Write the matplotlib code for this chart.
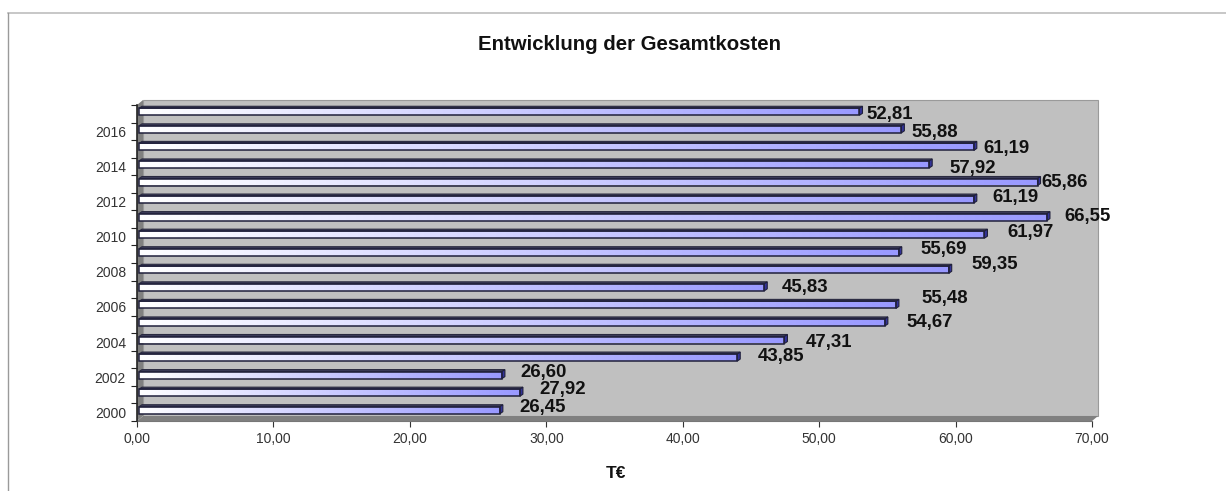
import numpy as np
import matplotlib
matplotlib.use("Agg")
import matplotlib.pyplot as plt
from matplotlib.colors import LinearSegmentedColormap
from matplotlib.lines import Line2D
from matplotlib.patches import Polygon

plt.rcParams['font.family'] = ['Liberation Sans', 'DejaVu Sans']

years = list(range(2000, 2018))
costs = [26.45, 27.92, 26.60, 43.85, 47.31, 54.67, 55.48, 45.83, 59.35,
         55.69, 61.97, 66.55, 61.19, 65.86, 57.92, 61.19, 55.88, 52.81]
x_ticks = [0, 10, 20, 30, 40, 50, 60, 70]

# hand placed labels in the original, pixels away from the bar end
label_dx = [17, 16, 15, 18, 18, 19, 23, 14, 20, 19, 20, 14, 16, 1, 17, 7, 7, 4]
label_dy = [3, 3, 3, 1, -2, 0, 6, 0, 5, 3, 2, 1, 2, 0, -4, -2, -3, -3]

W, H = 1226, 491
LEFT, RIGHT, TOP, BOTTOM = 137, 1092, 105, 421

fig = plt.figure(figsize=(W / 100, H / 100), dpi=100)
ax = fig.add_axes([LEFT / W, 1 - BOTTOM / H, (RIGHT - LEFT) / W, (BOTTOM - TOP) / H])

xmin, xmax = 0, 70
ymin, ymax = -0.5, 17.5
px = (xmax - xmin) / (RIGHT - LEFT)   # data units per pixel
py = (ymax - ymin) / (BOTTOM - TOP)
dx, dy = 6 * px, 5 * py               # depth of the fake 3d box


def poly(points, color, zorder, edge='none'):
    ax.add_patch(Polygon(points, closed=True, facecolor=color, edgecolor=edge,
                         linewidth=0.8, zorder=zorder, clip_on=False))


# walls and floor
poly([(dx, ymin + dy), (xmax + dx, ymin + dy), (xmax + dx, ymax + dy), (dx, ymax + dy)],
     '#c0c0c0', 1, '#9a9a9a')
poly([(0, ymin), (dx, ymin + dy), (dx, ymax + dy), (0, ymax)], '#808080', 1)
poly([(0, ymin), (xmax, ymin), (xmax + dx, ymin + dy), (dx, ymin + dy)], '#808080', 1)

cmap = LinearSegmentedColormap.from_list('bar', ['#ffffff', '#9999ff'])
grad = np.linspace(0, 1, 256).reshape(1, -1)

bar_h = 7 * py
bar_x = 2 * px
cap = 3 * px
side = 2 * py
for i, v in enumerate(costs):
    yc = i + 2 * py
    y0, y1 = yc - bar_h / 2, yc + bar_h / 2
    x0, x1 = bar_x, bar_x + v
    ax.imshow(grad, extent=[x0, x1, y0, y1], cmap=cmap, aspect='auto', zorder=3,
              interpolation='bilinear', clip_on=False)
    ax.barh(i + 2 * py, v, left=bar_x, height=bar_h, facecolor='none',
            edgecolor='#20203c', linewidth=1.1, zorder=4)
    # top and end faces
    poly([(x0, y1), (x1, y1), (x1 + cap, y1 + side), (x0 + cap, y1 + side)], '#3c3c5a', 3, '#2a2a40')
    poly([(x1, y0), (x1 + cap, y0 + side), (x1 + cap, y1 + side), (x1, y1)], '#333399', 3, '#20203c')
    label = f"{v:.2f}".replace('.', ',')
    ax.annotate(label, xy=(v + 5 * px, yc), xytext=(label_dx[i], label_dy[i]),
                textcoords='offset pixels', ha='left', va='center',
                fontsize=13.4, fontweight='bold', color='#111111', zorder=6,
                annotation_clip=False)

ax.set_xlim(xmin, xmax)
ax.set_ylim(ymin, ymax)
ax.set_facecolor('none')

ax.set_xticks(x_ticks)
ax.set_xticklabels([f"{t:.2f}".replace('.', ',') for t in x_ticks], fontsize=10, color='#333333')
ax.tick_params(axis='x', length=4, width=0.8, color='#333333', pad=4)

ax.set_yticks(np.arange(ymin, ymax + 0.5, 1))
ax.set_yticklabels([])
ax.tick_params(axis='y', length=4, width=0.8, color='#222222')
ax.set_yticks(list(range(0, 18, 2)), minor=True)
ax.set_yticklabels([str(years[i]) for i in range(0, 18, 2)], minor=True, fontsize=10, color='#333333')
ax.tick_params(axis='y', which='minor', length=0, pad=8)

for s in ['top', 'right']:
    ax.spines[s].set_visible(False)
ax.spines['left'].set_color('#222222')
ax.spines['left'].set_linewidth(1.2)
ax.spines['bottom'].set_color('#777777')
ax.spines['left'].set_zorder(5)

fig.text(630 / W, 1 - 45 / H, "Entwicklung der Gesamtkosten", ha='center', va='center',
         fontsize=14.7, fontweight='bold', color='#111111')
fig.text(616 / W, 1 - 473 / H, "T€", ha='center', va='center',
         fontsize=12.5, fontweight='bold', color='#111111')

# frame of the pasted chart, cut off at right and bottom
fig.add_artist(Line2D([8 / W, 1], [1 - 13 / H, 1 - 13 / H], color='#bdbdbd', linewidth=1.2))
fig.add_artist(Line2D([8 / W, 8 / W], [1 - 13 / H, 0], color='#9a9a9a', linewidth=1.0))

fig.savefig('out.png', dpi=100)
